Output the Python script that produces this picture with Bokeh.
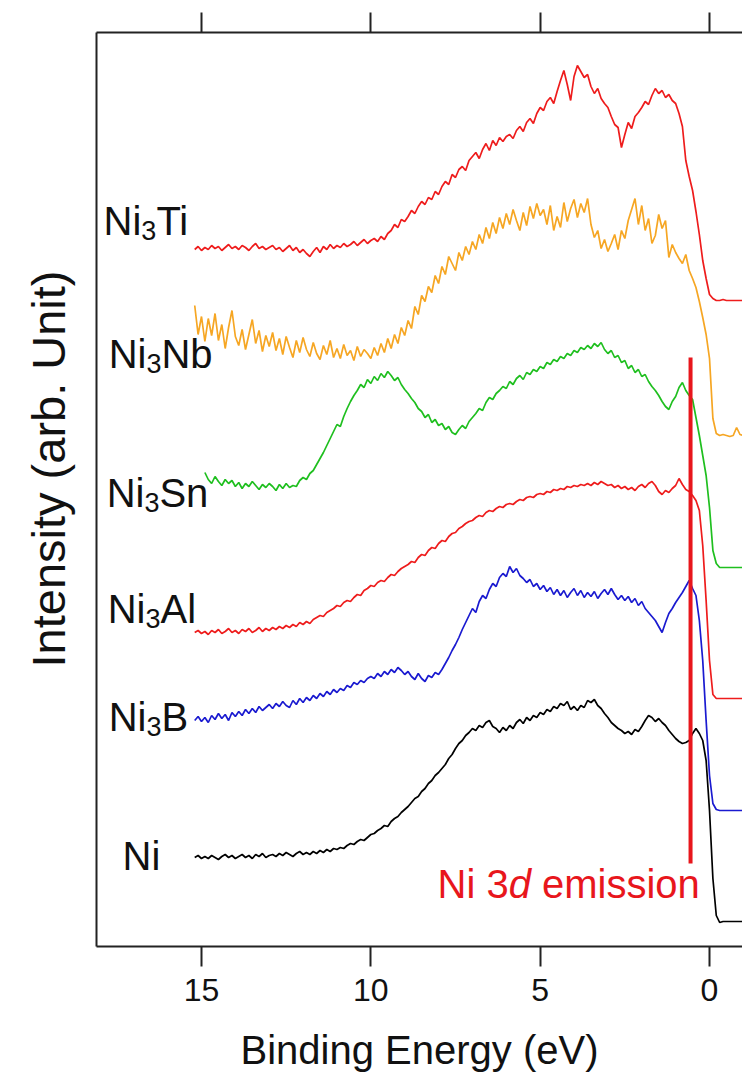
import numpy as np
from bokeh.plotting import figure
from bokeh.models import Range1d, LinearAxis, FixedTicker, Title
from bokeh.core.properties import value
from bokeh.embed import file_html
from bokeh.resources import INLINE

# ---------------- data ----------------
# binding energy grid, eV (15.2 ... -1.0, 0.1 eV steps)
energy = np.round(np.arange(15.2, -1.05, -0.1), 1)

# intensities in arbitrary units (already vertically offset, as plotted)
ni3ti = [
    697, 700, 696,
    699, 697, 701, 698, 700, 696, 699, 702, 698, 700,
    697, 701, 699, 696, 700, 703, 698, 700, 697, 699,
    701, 697, 699, 695, 698, 701, 696, 699, 694, 697,
    693, 690, 695, 699, 694, 700, 697, 702, 698, 701,
    699, 703, 700, 702, 705, 701, 704, 707, 703, 706,
    708, 705, 710, 707, 713, 716, 722, 719, 727, 725,
    730, 736, 733, 740, 745, 742, 749, 747, 755, 752,
    760, 765, 762, 772, 769, 777, 780, 776, 786, 790,
    794, 788, 797, 803, 796, 806, 801, 809, 805, 810,
    812, 808, 816, 820, 815, 824, 828, 823, 833, 839,
    836, 845, 849, 843, 855, 866, 876, 862, 846, 870,
    881, 875, 869, 872, 860, 853, 858, 848, 843, 839,
    830, 822, 819, 799, 812, 824, 818, 830, 834, 839,
    845, 842, 851, 858, 853, 856, 849, 852, 846, 843,
    833, 820, 786, 770, 756, 735, 712, 686, 668, 652,
    648, 646, 646, 647, 646, 646, 646, 646, 646, 646,
]
ni3nb = [
    641, 612, 630,
    605, 628, 611, 633, 606, 622, 598, 619, 636, 610,
    601, 617, 597, 612, 627, 603, 616, 595, 611, 600,
    614, 596, 608, 592, 610, 599, 589, 606, 594, 609,
    597, 590, 604, 593, 587, 601, 592, 606, 589, 598,
    588, 602, 591, 596, 586, 600, 590, 597, 593, 588,
    599, 591, 603, 594, 608, 598, 612, 603, 619, 611,
    626, 618, 640, 632, 651, 645, 660, 654, 671, 663,
    680, 672, 690, 683, 676, 694, 686, 700, 692, 705,
    697, 712, 703, 719, 708, 724, 713, 729, 718, 733,
    722, 737, 726, 716, 734, 721, 740, 728, 743, 731,
    737, 722, 741, 716, 730, 719, 744, 725, 738, 747,
    729, 743, 734, 748, 722, 709, 716, 698, 707, 695,
    703, 712, 697, 716, 708, 726, 737, 748, 722, 741,
    716, 728, 703, 711, 732, 718, 726, 689, 702, 694,
    688, 683, 692, 676, 668, 659, 645, 629, 612, 588,
    528, 513, 511, 512, 511, 510, 511, 519, 512, 511,
]
nan = float("nan")
ni3sn = [
    nan, nan, nan,
    474, 467, 463, 470, 465, 461, 467, 463, 466, 460,
    464, 458, 463, 460, 465, 461, 457, 462, 459, 463,
    460, 456, 462, 458, 463, 459, 461, 460, 466, 469,
    467, 473, 476, 482, 488, 494, 501, 508, 515, 522,
    520, 530, 538, 545, 551, 556, 562, 559, 567, 563,
    570, 566, 573, 569, 575, 571, 566, 569, 562, 557,
    553, 548, 544, 538, 535, 529, 532, 524, 527, 521,
    523, 517, 520, 514, 512, 517, 521, 518, 525, 529,
    533, 538, 536, 544, 549, 547, 553, 556, 560, 558,
    565, 562, 568, 571, 567, 574, 572, 577, 575, 580,
    578, 584, 582, 587, 585, 590, 588, 593, 591, 596,
    594, 599, 597, 601, 598, 603, 600, 604, 597, 593,
    596, 589, 591, 584, 586, 578, 581, 574, 577, 570,
    572, 565, 560, 556, 551, 545, 540, 537, 545, 550,
    559, 564, 556, 551, 547, 529, 511, 491, 471, 439,
    396, 383, 379, 379, 379, 379, 379, 379, 379, 379,
]
ni3al = [
    314, 316, 313,
    315, 312, 316, 314, 317, 313, 315, 318, 314, 316,
    313, 317, 315, 318, 314, 316, 319, 315, 318, 316,
    319, 317, 320, 318, 321, 319, 322, 320, 324, 322,
    325, 323, 327, 329, 331, 330, 334, 336, 338, 341,
    340, 344, 346, 345, 349, 352, 351, 356, 358, 361,
    360, 364, 366, 365, 369, 372, 371, 375, 378, 380,
    382, 385, 384, 389, 392, 391, 396, 399, 398, 403,
    406, 405, 410, 413, 414, 418, 420, 423, 425, 426,
    429, 431, 430, 434, 436, 435, 438, 440, 439, 442,
    443, 442, 445, 447, 446, 449, 450, 449, 452, 453,
    452, 455, 454, 457, 456, 458, 457, 460, 459, 461,
    460, 462, 461, 463, 461, 464, 462, 465, 463, 461,
    462, 459, 461, 458, 460, 457, 459, 456, 460, 462,
    459, 463, 465, 461, 455, 452, 456, 454, 458, 461,
    468, 462, 457, 455, 451, 446, 436, 401, 346, 286,
    252, 248, 248, 248, 248, 248, 248, 248, 248, 248,
]
ni3b = [
    226, 230, 225,
    229, 224, 231, 227, 233, 228, 232, 226, 234, 230,
    235, 231, 237, 233, 238, 234, 240, 236, 239, 242,
    238, 243, 240, 245, 241, 239, 246, 242, 248, 244,
    249, 246, 251, 248, 253, 250, 255, 252, 257, 254,
    258, 256, 261, 259, 264, 262, 266, 264, 268, 270,
    268, 273, 270, 275, 272, 277, 274, 279, 276, 272,
    275, 270, 267, 273, 268, 265, 271, 269, 274, 272,
    277, 283, 289, 296, 302, 309, 317, 324, 331, 338,
    334, 345, 351, 348, 357, 363, 360, 369, 373, 370,
    380, 374, 378, 371, 368, 364, 367, 360, 363, 357,
    361, 355, 359, 352, 357, 351, 356, 349, 354, 358,
    351, 356, 349, 354, 350, 355, 348, 353, 357, 352,
    358, 352, 347, 351, 346, 350, 344, 348, 341, 345,
    338, 334, 330, 326, 320, 314, 324, 333, 338, 344,
    349, 354, 360, 366, 358, 351, 326, 286, 226, 171,
    143, 137, 136, 136, 136, 136, 136, 136, 136, 136,
]
ni = [
    89, 91, 88,
    90, 88, 91, 89, 87, 90, 92, 89, 91, 88,
    90, 92, 89, 91, 88, 92, 90, 93, 89, 91,
    92, 90, 93, 91, 94, 92, 90, 93, 95, 92,
    94, 92, 95, 93, 96, 94, 97, 95, 98, 97,
    99, 98, 101, 103, 102, 105, 107, 106, 109, 112,
    113, 116, 118, 121, 120, 125, 128, 130, 134, 137,
    140, 144, 148, 150, 155, 158, 163, 166, 171, 174,
    178, 182, 188, 192, 198, 203, 206, 211, 214, 218,
    216, 221, 219, 224, 226, 220, 218, 214, 219, 216,
    221, 218, 224, 227, 223, 229, 226, 231, 229, 234,
    232, 237, 235, 240, 238, 243, 241, 245, 237, 240,
    236, 241, 239, 246, 244, 247, 241, 238, 233, 229,
    224, 221, 218, 216, 213, 215, 212, 217, 215, 220,
    226, 231, 229, 225, 228, 224, 221, 216, 212, 208,
    205, 203, 204, 206, 213, 218, 213, 206, 186, 136,
    68, 31, 24, 25, 25, 25, 25, 25, 25, 25,
]

# sample names: (base, subscript, rest)
names = [("Ni", "3", "Ti"), ("Ni", "3", "Nb"), ("Ni", "3", "Sn"),
         ("Ni", "3", "Al"), ("Ni", "3", "B"), ("Ni", "", "")]
series = [ni3ti, ni3nb, ni3sn, ni3al, ni3b, ni]

# Ni 3d emission marker
emission_energy = 0.56
emission_span = [83, 589]

x_ticks = [15, 10, 5, 0]

# ---------------- styling / layout ----------------
colors = ["#ee1c1c", "#f6a623", "#1fbf1f", "#ee1c1c", "#1a1ad0", "#000000"]
label_pos = [(17.89, 726), (17.74, 593), (17.80, 454),
             (17.77, 338), (17.74, 230), (17.33, 91)]
FONT = "Liberation Sans"
TXT = "#111111"
AX = "#222222"

for s in series:
    assert len(s) == len(energy), len(s)

p = figure(width=742, height=1079,
           x_range=Range1d(18.10, -0.974), y_range=Range1d(0, 914),
           output_backend="svg", toolbar_location=None,
           x_axis_location=None, y_axis_location=None,
           min_border_left=96, min_border_right=0,
           min_border_top=32, min_border_bottom=133)
p.outline_line_color = None
p.xgrid.visible = False
p.ygrid.visible = False
p.background_fill_color = "white"
p.border_fill_color = "white"

bottom = LinearAxis(ticker=FixedTicker(ticks=x_ticks))
bottom.axis_label = "Binding Energy (eV)"
top = LinearAxis(ticker=FixedTicker(ticks=x_ticks))
for ax in (bottom, top):
    ax.axis_line_width = 2
    ax.axis_line_color = AX
    ax.major_tick_line_width = 2
    ax.major_tick_line_color = AX
    ax.major_tick_in = 0
    ax.major_tick_out = 20
    ax.minor_tick_line_color = None
bottom.major_label_text_font = FONT
bottom.major_label_text_font_size = "32px"
bottom.major_label_text_color = TXT
bottom.major_label_standoff = 12
bottom.axis_label_text_font = FONT
bottom.axis_label_text_font_size = "40px"
bottom.axis_label_text_font_style = "normal"
bottom.axis_label_text_color = TXT
bottom.axis_label_standoff = 24
top.major_label_text_font_size = "1px"
top.major_label_text_color = None
top.major_label_standoff = 0

left = LinearAxis(ticker=FixedTicker(ticks=[]))
left.axis_line_width = 2
left.axis_line_color = AX
left.major_tick_line_color = None
left.minor_tick_line_color = None
left.major_label_text_font_size = "1px"
left.major_label_text_color = None
left.major_label_standoff = 0

p.add_layout(bottom, "below")
p.add_layout(top, "above")
p.add_layout(left, "left")

ytitle = Title(text="Intensity (arb. Unit)", align="left", offset=279,
               standoff=40, vertical_align="top", text_font=FONT,
               text_font_size="47px", text_font_style="normal",
               text_color=TXT)
p.add_layout(ytitle, "left")

for s, c in zip(series, colors):
    p.line(energy, s, line_color=c, line_width=1.7)

p.segment(x0=[emission_energy], y0=[emission_span[0]],
          x1=[emission_energy], y1=[emission_span[1]],
          line_color="#e8161c", line_width=4)

fs, fsub = 40, 27
for (base, sub, rest), (lx, ly) in zip(names, label_pos):
    common = dict(text_font=value(FONT), text_color=TXT,
                  text_align="left", text_baseline="alphabetic")
    p.text(x=[lx], y=[ly], text=[base], text_font_size=f"{fs}px", **common)
    w_base = 0.944 * fs
    if sub:
        p.text(x=[lx], y=[ly], text=[sub], x_offset=w_base, y_offset=10,
               text_font_size=f"{fsub}px", **common)
        p.text(x=[lx], y=[ly], text=[rest], x_offset=w_base + 0.556 * fsub,
               text_font_size=f"{fs}px", **common)

# "Ni 3d emission"
em_common = dict(text_font=value(FONT), text_color="#e8161c",
                 text_align="left", text_baseline="alphabetic",
                 text_font_size="40px")
ex, ey = 8.03, 63
p.text(x=[ex], y=[ey], text=["Ni 3"], **em_common)
p.text(x=[ex], y=[ey], text=["d"], x_offset=71.1, text_font_style="italic", **em_common)
p.text(x=[ex], y=[ey], text=["emission"], x_offset=104.4, **em_common)

open("out.html", "w").write(file_html(p, INLINE))
